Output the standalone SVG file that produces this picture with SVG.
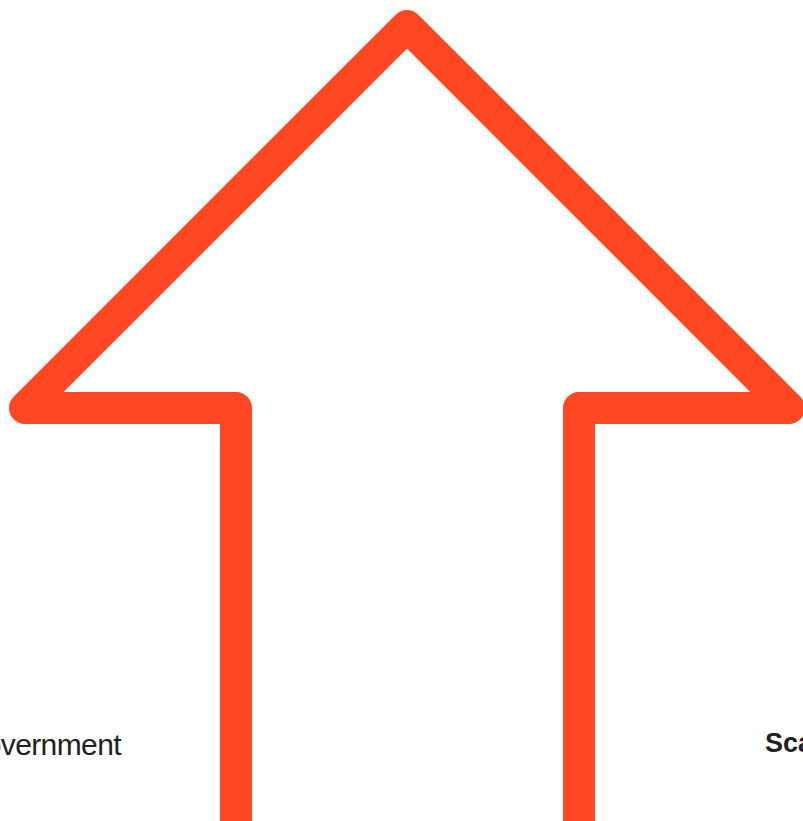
<svg xmlns="http://www.w3.org/2000/svg" width="803" height="821" viewBox="0 0 803 821">
<style>
.arrow{fill:none;stroke:#FF4823;stroke-width:32;stroke-linejoin:round;stroke-linecap:round}
.lbl{font-family:"Liberation Sans",Arial,sans-serif;fill:#222}
</style>
<rect width="803" height="821" fill="#fff"/>
<g id="arrow">
<path class="arrow" d="M236,840 L236,408 L25,408 L407,26 L789,408 L579,408 L579,840"/>
</g>
<g id="label-government">
<text class="lbl" x="121" y="755" text-anchor="end" font-size="30" letter-spacing="-0.6">Government</text>
</g>
<g id="label-scale">
<text class="lbl" x="765" y="752" font-size="27" font-weight="bold" fill="#000">Scale</text>
</g>
</svg>
